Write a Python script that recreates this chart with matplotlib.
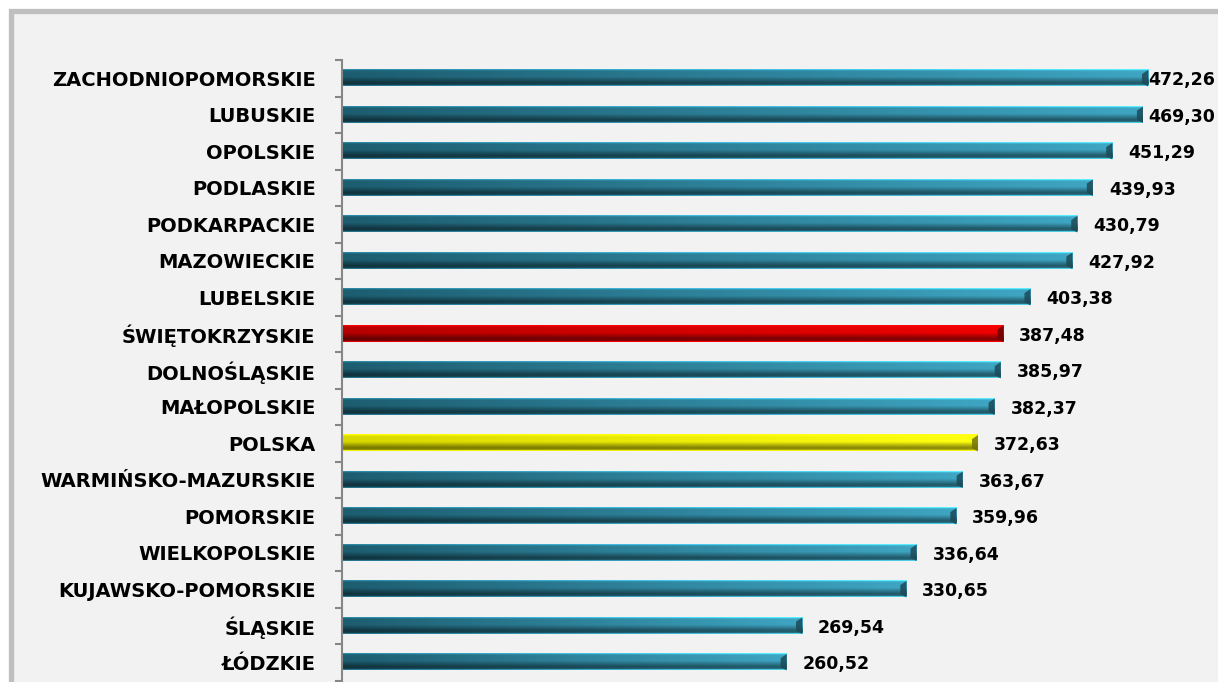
import matplotlib as mpl

mpl.use("Agg")
import matplotlib.pyplot as plt
import numpy as np
from matplotlib.colors import to_rgb
from matplotlib.patches import Polygon, Rectangle

regions = [
    "ZACHODNIOPOMORSKIE", "LUBUSKIE", "OPOLSKIE", "PODLASKIE", "PODKARPACKIE",
    "MAZOWIECKIE", "LUBELSKIE", "ŚWIĘTOKRZYSKIE", "DOLNOŚLĄSKIE", "MAŁOPOLSKIE",
    "POLSKA", "WARMIŃSKO-MAZURSKIE", "POMORSKIE", "WIELKOPOLSKIE",
    "KUJAWSKO-POMORSKIE", "ŚLĄSKIE", "ŁÓDZKIE",
]
values = [472.26, 469.30, 451.29, 439.93, 430.79, 427.92, 403.38, 387.48, 385.97,
          382.37, 372.63, 363.67, 359.96, 336.64, 330.65, 269.54, 260.52]
highlight = {"ŚWIĘTOKRZYSKIE": "red", "POLSKA": "yellow"}

# (left colour, right colour) of each bar style
PALETTE = {
    "teal": ("#1d5d70", "#3ea5c2"),
    "red": ("#b80000", "#f00000"),
    "yellow": ("#d8d800", "#ffff10"),
}
BG = "#f2f2f2"
FONT = ["DejaVu Sans"]

W, H = 1218, 682
X0, X1 = 342, 1150          # pixel span of the plot area
Y_TOP, Y_BOT = 60, 680.5
PX_PER_UNIT = 1.7067
XMAX = (X1 - X0) / PX_PER_UNIT
BAR_H = 0.45
RIGHT_LIMIT = 1215          # labels must end before this pixel column


def bar_image(left, right, n=40, m=64):
    # vertical shading profile (top -> bottom): light rim, body, dark base
    t = np.linspace(0, 1, n)
    keys_t = [0.0, 0.08, 0.15, 0.45, 0.6, 0.8, 0.93, 1.0]
    keys_f = [1.6, 1.05, 1.0, 1.0, 0.8, 0.55, 0.6, 1.5]
    prof = np.interp(t, keys_t, keys_f)
    s = np.linspace(0, 1, m)
    lc, rc = np.array(to_rgb(left)), np.array(to_rgb(right))
    base = lc[None, :] * (1 - s[:, None]) + rc[None, :] * s[:, None]
    img = base[None, :, :] * prof[:, None, None]
    return np.clip(img, 0, 1)


fig = plt.figure(figsize=(W / 100, H / 100), dpi=100)
fig.patch.set_facecolor("white")
fig.add_artist(Rectangle((10.5 / W, -0.05), 1.1, 1 - 10.5 / H + 0.05,
                         transform=fig.transFigure, facecolor=BG,
                         edgecolor="#bfbfbf", linewidth=3.8, zorder=0))

ax = fig.add_axes([X0 / W, 1 - Y_BOT / H, (X1 - X0) / W, (Y_BOT - Y_TOP) / H])
ax.set_facecolor("none")

n = len(values)
labels = []
for i, (name, v) in enumerate(zip(regions, values)):
    left, right = PALETTE[highlight.get(name, "teal")]
    ax.imshow(bar_image(left, right), extent=(0, v, i + BAR_H / 2, i - BAR_H / 2),
              aspect="auto", interpolation="bilinear", zorder=2)
    # bevelled end cap
    cap = 6 / PX_PER_UNIT
    dark = np.array(to_rgb(right)) * 0.45
    ax.add_patch(Polygon([(v - cap, i - BAR_H * 0.25), (v, i - BAR_H / 2),
                          (v, i + BAR_H / 2), (v - cap, i + BAR_H * 0.3)],
                         closed=True, facecolor=dark, edgecolor="none",
                         alpha=0.85, zorder=3))
    t = ax.text(v + 16 / PX_PER_UNIT, i + 0.05, f"{v:.2f}".replace(".", ","),
                ha="left", va="center", fontsize=12.5, fontweight="bold",
                family=FONT, color="black", clip_on=False)
    labels.append(t)

ax.set_xlim(0, XMAX)
ax.set_ylim(n - 0.5, -0.5)

ax.set_yticks(range(n))
ax.set_yticklabels(regions, fontsize=14, fontweight="bold", family=FONT)
ax.set_yticks(np.arange(-0.5, n, 1), minor=True)
ax.tick_params(axis="y", which="major", length=0, pad=19)
ax.tick_params(axis="y", which="minor", length=5, width=1.5, color="#868686")
ax.set_xticks([])

for side in ("top", "right", "bottom"):
    ax.spines[side].set_visible(False)
ax.spines["left"].set_color("#868686")
ax.spines["left"].set_linewidth(1.5)

# pull labels that would run off the right edge back inside
fig.canvas.draw()
renderer = fig.canvas.get_renderer()
for t in labels:
    bb = t.get_window_extent(renderer)
    if bb.x1 > RIGHT_LIMIT:
        x, y = t.get_position()
        t.set_x(x - (bb.x1 - RIGHT_LIMIT) / PX_PER_UNIT)

fig.savefig("out.png", dpi=100, facecolor=fig.get_facecolor())
